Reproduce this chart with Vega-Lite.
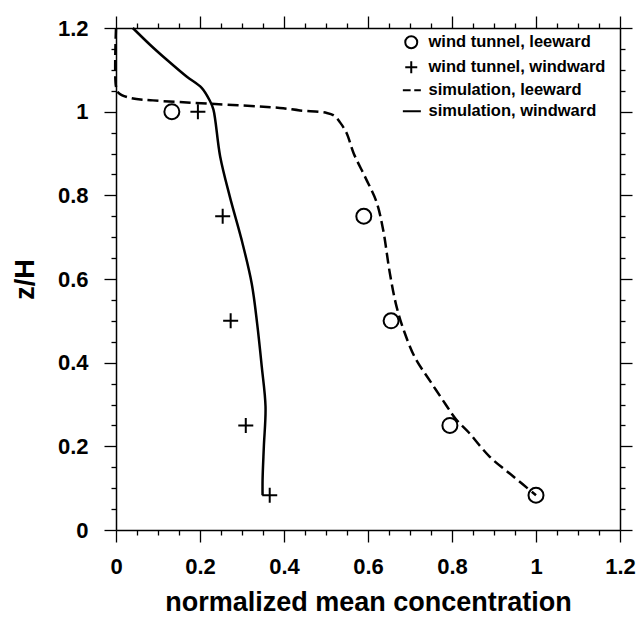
{
  "$schema": "https://vega.github.io/schema/vega-lite/v6.json",
  "width": 504,
  "height": 502,
  "autosize": "none",
  "padding": {"left": 116, "top": 28, "right": 18, "bottom": 91},
  "background": "white",
  "config": {"view": {"stroke": null}, "font": "Liberation Sans"},
  "data": {"values": [
    {"series": "simulation, windward", "kind": "sim", "i": 1, "x": 0.04, "y": 1.2},
    {"series": "simulation, windward", "kind": "sim", "i": 2, "x": 0.081, "y": 1.16},
    {"series": "simulation, windward", "kind": "sim", "i": 3, "x": 0.121, "y": 1.124},
    {"series": "simulation, windward", "kind": "sim", "i": 4, "x": 0.168, "y": 1.084},
    {"series": "simulation, windward", "kind": "sim", "i": 5, "x": 0.204, "y": 1.057},
    {"series": "simulation, windward", "kind": "sim", "i": 6, "x": 0.224, "y": 1.025},
    {"series": "simulation, windward", "kind": "sim", "i": 7, "x": 0.232, "y": 1.005},
    {"series": "simulation, windward", "kind": "sim", "i": 8, "x": 0.248, "y": 0.893},
    {"series": "simulation, windward", "kind": "sim", "i": 9, "x": 0.271, "y": 0.797},
    {"series": "simulation, windward", "kind": "sim", "i": 10, "x": 0.299, "y": 0.694},
    {"series": "simulation, windward", "kind": "sim", "i": 11, "x": 0.323, "y": 0.59},
    {"series": "simulation, windward", "kind": "sim", "i": 12, "x": 0.336, "y": 0.494},
    {"series": "simulation, windward", "kind": "sim", "i": 13, "x": 0.347, "y": 0.391},
    {"series": "simulation, windward", "kind": "sim", "i": 14, "x": 0.356, "y": 0.295},
    {"series": "simulation, windward", "kind": "sim", "i": 15, "x": 0.352, "y": 0.199},
    {"series": "simulation, windward", "kind": "sim", "i": 16, "x": 0.349, "y": 0.12},
    {"series": "simulation, windward", "kind": "sim", "i": 17, "x": 0.349, "y": 0.083},
    {"series": "simulation, leeward", "kind": "sim", "i": 1, "x": 0.0, "y": 1.2},
    {"series": "simulation, leeward", "kind": "sim", "i": 2, "x": 0.0, "y": 1.06},
    {"series": "simulation, leeward", "kind": "sim", "i": 3, "x": 0.006, "y": 1.045},
    {"series": "simulation, leeward", "kind": "sim", "i": 4, "x": 0.033, "y": 1.033},
    {"series": "simulation, leeward", "kind": "sim", "i": 5, "x": 0.088, "y": 1.027},
    {"series": "simulation, leeward", "kind": "sim", "i": 6, "x": 0.224, "y": 1.019},
    {"series": "simulation, leeward", "kind": "sim", "i": 7, "x": 0.39, "y": 1.009},
    {"series": "simulation, leeward", "kind": "sim", "i": 8, "x": 0.438, "y": 1.003},
    {"series": "simulation, leeward", "kind": "sim", "i": 9, "x": 0.502, "y": 0.997},
    {"series": "simulation, leeward", "kind": "sim", "i": 10, "x": 0.52, "y": 0.99},
    {"series": "simulation, leeward", "kind": "sim", "i": 11, "x": 0.533, "y": 0.975},
    {"series": "simulation, leeward", "kind": "sim", "i": 12, "x": 0.549, "y": 0.949},
    {"series": "simulation, leeward", "kind": "sim", "i": 13, "x": 0.566, "y": 0.9},
    {"series": "simulation, leeward", "kind": "sim", "i": 14, "x": 0.595, "y": 0.84},
    {"series": "simulation, leeward", "kind": "sim", "i": 15, "x": 0.62, "y": 0.785},
    {"series": "simulation, leeward", "kind": "sim", "i": 16, "x": 0.636, "y": 0.718},
    {"series": "simulation, leeward", "kind": "sim", "i": 17, "x": 0.652, "y": 0.614},
    {"series": "simulation, leeward", "kind": "sim", "i": 18, "x": 0.668, "y": 0.534},
    {"series": "simulation, leeward", "kind": "sim", "i": 19, "x": 0.686, "y": 0.475},
    {"series": "simulation, leeward", "kind": "sim", "i": 20, "x": 0.712, "y": 0.412},
    {"series": "simulation, leeward", "kind": "sim", "i": 21, "x": 0.748, "y": 0.356},
    {"series": "simulation, leeward", "kind": "sim", "i": 22, "x": 0.785, "y": 0.3},
    {"series": "simulation, leeward", "kind": "sim", "i": 23, "x": 0.81, "y": 0.264},
    {"series": "simulation, leeward", "kind": "sim", "i": 24, "x": 0.84, "y": 0.233},
    {"series": "simulation, leeward", "kind": "sim", "i": 25, "x": 0.89, "y": 0.175},
    {"series": "simulation, leeward", "kind": "sim", "i": 26, "x": 0.946, "y": 0.128},
    {"series": "simulation, leeward", "kind": "sim", "i": 27, "x": 1.0, "y": 0.083},
    {"series": "wind tunnel, leeward", "kind": "tunnel", "i": 1, "x": 0.133, "y": 1.0},
    {"series": "wind tunnel, leeward", "kind": "tunnel", "i": 2, "x": 0.59, "y": 0.75},
    {"series": "wind tunnel, leeward", "kind": "tunnel", "i": 3, "x": 0.655, "y": 0.5},
    {"series": "wind tunnel, leeward", "kind": "tunnel", "i": 4, "x": 0.795, "y": 0.25},
    {"series": "wind tunnel, leeward", "kind": "tunnel", "i": 5, "x": 1.0, "y": 0.083},
    {"series": "wind tunnel, windward", "kind": "tunnel", "i": 1, "x": 0.195, "y": 1.0},
    {"series": "wind tunnel, windward", "kind": "tunnel", "i": 2, "x": 0.254, "y": 0.75},
    {"series": "wind tunnel, windward", "kind": "tunnel", "i": 3, "x": 0.273, "y": 0.5},
    {"series": "wind tunnel, windward", "kind": "tunnel", "i": 4, "x": 0.309, "y": 0.25},
    {"series": "wind tunnel, windward", "kind": "tunnel", "i": 5, "x": 0.366, "y": 0.083}
  ]},
  "resolve": {"axis": {"x": "independent", "y": "independent"}},
  "layer": [
    {
      "transform": [{"filter": "datum.series == 'simulation, windward'"}],
      "mark": {"type": "line", "color": "black", "strokeWidth": 2.5, "interpolate": "catmull-rom"},
      "encoding": {
        "x": {"field": "x", "type": "quantitative",
          "scale": {"domain": [0, 1.2], "nice": false, "zero": false},
          "axis": {"orient": "bottom", "title": "normalized mean concentration",
            "values": [0,0.05,0.1,0.15,0.2,0.25,0.3,0.35,0.4,0.45,0.5,0.55,0.6,0.65,0.7,0.75,0.8,0.85,0.9,0.95,1,1.05,1.1,1.15,1.2],
            "labelExpr": "abs(datum.value*5 - round(datum.value*5)) < 0.001 ? format(datum.value, '~g') : ''",
            "tickSize": {"condition": {"test": "abs(datum.value*5 - round(datum.value*5)) < 0.001", "value": 12}, "value": 5},
            "grid": false, "labelOverlap": false, "labelFlush": false, "labelBound": false,
            "domainColor": "black", "domainWidth": 1.5, "tickColor": "black", "tickWidth": 1.3,
            "labelFont": "Liberation Sans", "labelFontSize": 22, "labelFontWeight": "bold", "labelColor": "black", "labelPadding": 14,
            "titleFont": "Liberation Sans", "titleFontSize": 27, "titleFontWeight": "bold", "titleColor": "black", "titlePadding": 12}},
        "y": {"field": "y", "type": "quantitative",
          "scale": {"domain": [0, 1.2], "nice": false, "zero": false},
          "axis": {"orient": "left", "title": "z/H",
            "values": [0,0.05,0.1,0.15,0.2,0.25,0.3,0.35,0.4,0.45,0.5,0.55,0.6,0.65,0.7,0.75,0.8,0.85,0.9,0.95,1,1.05,1.1,1.15,1.2],
            "labelExpr": "abs(datum.value*5 - round(datum.value*5)) < 0.001 ? format(datum.value, '~g') : ''",
            "tickSize": {"condition": {"test": "abs(datum.value*5 - round(datum.value*5)) < 0.001", "value": 12}, "value": 5},
            "grid": false, "labelOverlap": false, "labelFlush": false, "labelBound": false,
            "domainColor": "black", "domainWidth": 1.5, "tickColor": "black", "tickWidth": 1.3,
            "labelFont": "Liberation Sans", "labelFontSize": 22, "labelFontWeight": "bold", "labelColor": "black", "labelPadding": 16,
            "titleFont": "Liberation Sans", "titleFontSize": 27, "titleFontWeight": "bold", "titleColor": "black", "titlePadding": 18}},
        "order": {"field": "i", "type": "quantitative"}
      }
    },
    {
      "transform": [{"filter": "datum.series == 'simulation, leeward'"}],
      "mark": {"type": "line", "color": "black", "strokeWidth": 2.5, "strokeDash": [11, 5], "interpolate": "catmull-rom"},
      "encoding": {
        "x": {"field": "x", "type": "quantitative",
          "axis": {"orient": "top", "title": null, "labels": false,
            "values": [0,0.05,0.1,0.15,0.2,0.25,0.3,0.35,0.4,0.45,0.5,0.55,0.6,0.65,0.7,0.75,0.8,0.85,0.9,0.95,1,1.05,1.1,1.15,1.2],
            "tickSize": {"condition": {"test": "abs(datum.value*5 - round(datum.value*5)) < 0.001", "value": 12}, "value": 5},
            "grid": false, "domainColor": "black", "domainWidth": 1.5, "tickColor": "black", "tickWidth": 1.3}},
        "y": {"field": "y", "type": "quantitative",
          "axis": {"orient": "right", "title": null, "labels": false,
            "values": [0,0.05,0.1,0.15,0.2,0.25,0.3,0.35,0.4,0.45,0.5,0.55,0.6,0.65,0.7,0.75,0.8,0.85,0.9,0.95,1,1.05,1.1,1.15,1.2],
            "tickSize": {"condition": {"test": "abs(datum.value*5 - round(datum.value*5)) < 0.001", "value": 12}, "value": 5},
            "grid": false, "domainColor": "black", "domainWidth": 1.5, "tickColor": "black", "tickWidth": 1.3}},
        "order": {"field": "i", "type": "quantitative"}
      }
    },
    {
      "transform": [{"filter": "datum.kind == 'tunnel'"}],
      "mark": {"type": "point", "filled": false, "color": "black", "strokeWidth": 2, "size": 225, "opacity": 1},
      "encoding": {
        "x": {"field": "x", "type": "quantitative", "axis": null},
        "y": {"field": "y", "type": "quantitative", "axis": null},
        "shape": {"field": "series", "type": "nominal",
          "scale": {"domain": ["wind tunnel, leeward", "wind tunnel, windward", "simulation, leeward", "simulation, windward"],
                    "range": ["circle", "M-1,0H1M0,-1V1", "M-1.4,0H-0.1M0.5,0H1.6", "M-1.4,0H1.6"]},
          "legend": {"title": null, "orient": "none", "legendX": 287, "legendY": 6,
            "labelFont": "Liberation Sans", "labelFontSize": 16.5, "labelFontWeight": "bold", "labelColor": "black",
            "labelLimit": 0, "labelOffset": 9, "rowPadding": 4, "symbolSize": 144, "symbolStrokeWidth": 2,
            "symbolStrokeColor": "black", "symbolFillColor": "transparent", "padding": 0}}
      }
    }
  ]
}
